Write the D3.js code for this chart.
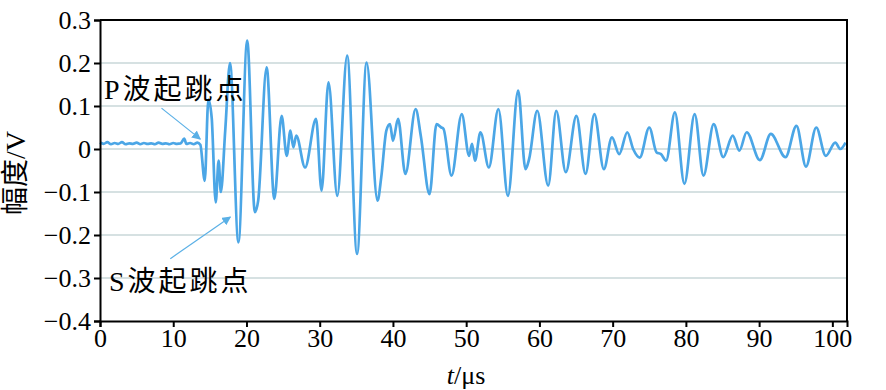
<!DOCTYPE html>
<html>
<head>
<meta charset="utf-8">
<script src="https://cdn.jsdelivr.net/npm/d3@7"></script>
<style>
  body { margin: 0; background: #fff; }
  svg { display: block; }
  .tick text { font-family: "Liberation Serif", "Times New Roman", serif; font-size: 26px; fill: #000; }
</style>
</head>
<body>
<script>
// time (us) and amplitude (V)
var timeValues = [0, 0.5, 1, 1.5, 2, 2.5, 3, 3.5, 4, 4.5, 5, 5.5, 6, 6.5, 7, 7.5, 8, 8.5, 9, 9.5,
  10, 10.5, 11, 11.5, 11.8, 12.3, 12.8, 13.3, 13.7,
  14.3, 14.8, 15.25, 15.8, 16.2, 16.5, 17.1, 17.75, 18.9, 20.1, 21.15, 21.6, 22.75, 23.8, 24.8,
  25.5, 26.0, 26.4, 26.8, 28.0, 29.5, 30.25, 31.2, 32.4, 33.75, 35.1, 36.4, 37.9, 38.4, 39.1,
  39.6, 40.0, 40.7, 41.7, 43.1, 43.8, 45.0, 45.95, 46.6, 46.9, 48.0, 49.4, 50.4, 50.8, 51.2,
  51.95, 53.1, 54.4, 55.7, 57.1, 58.1, 58.6, 59.7, 61.2, 62.3, 63.6, 65.05, 66.3, 67.5, 68.8,
  69.9, 70.9, 72.0, 72.8, 73.7, 75.0, 76.0, 76.6, 77.3, 78.5, 79.8, 81.2, 82.4, 83.8, 85.1,
  86.4, 87.3, 88.3, 90.1, 91.6, 93.6, 95.1, 96.4, 97.8, 99.1, 100.4, 101.1, 101.8];
var ampValues = [0.015, 0.012, 0.016, 0.011, 0.014, 0.012, 0.016, 0.011, 0.013, 0.012, 0.015, 0.011, 0.014, 0.012, 0.013, 0.011, 0.015, 0.012, 0.013, 0.011,
  0.014, 0.012, 0.013, 0.024, 0.012, 0.014, 0.011, 0.015, 0.010,
  -0.074, 0.115, 0.073, -0.124, -0.027, -0.100, 0.043, 0.200, -0.217, 0.252, -0.147, -0.120, 0.190, -0.116, 0.077,
  -0.016, 0.043, 0.004, 0.031, -0.043, 0.070, -0.097, 0.155, -0.109, 0.217, -0.244, 0.201, -0.120, -0.066, 0.043,
  0.058, 0.019, 0.070, -0.058, 0.093, 0.031, -0.105, 0.058, 0.050, 0.047, -0.062, 0.081, -0.016, 0.012, -0.027,
  0.039, -0.043, 0.093, -0.109, 0.136, -0.047, -0.023, 0.089, -0.085, 0.089, -0.054, 0.077, -0.058, 0.081, -0.047,
  0.027, -0.012, 0.039, 0.000, -0.020, 0.050, -0.008, -0.012, -0.027, 0.085, -0.081, 0.081, -0.062, 0.058, -0.019,
  0.031, -0.004, 0.039, -0.026, 0.035, -0.019, 0.054, -0.041, 0.050, -0.016, 0.015, 0.000, 0.015];

var xTicks = [0, 10, 20, 30, 40, 50, 60, 70, 80, 90, 100];
var yTicks = [-0.4, -0.3, -0.2, -0.1, 0, 0.1, 0.2, 0.3];
var gridValues = [-0.3, -0.2, -0.1, 0, 0.1, 0.2];

var w = 886, h = 390;
var mLeft = 100, mRight = 847, mTop = 20, mBottom = 321;

var svg = d3.select("body").append("svg")
  .attr("width", w)
  .attr("height", h);

var x = d3.scaleLinear().domain([0, 102]).range([mLeft, mRight]);
var y = d3.scaleLinear().domain([-0.4, 0.3]).range([mBottom, mTop]);

// grid lines
svg.append("g").selectAll("line")
  .data(gridValues)
  .enter().append("line")
  .attr("x1", mLeft).attr("x2", mRight)
  .attr("y1", function(d) { return y(d); })
  .attr("y2", function(d) { return y(d); })
  .attr("stroke", "#c9d7d9")
  .attr("stroke-width", 1.5);

// waveform
var points = timeValues.map(function(t, i) { return [t, ampValues[i]]; });
var line = d3.line()
  .x(function(d) { return x(d[0]); })
  .y(function(d) { return y(d[1]); })
  .curve(d3.curveMonotoneX);

svg.append("path")
  .datum(points)
  .attr("d", line)
  .attr("fill", "none")
  .attr("stroke", "#4ba6e6")
  .attr("stroke-width", 2.7)
  .attr("stroke-linejoin", "round");

// frame top and right
svg.append("line").attr("x1", mLeft).attr("x2", mRight).attr("y1", mTop).attr("y2", mTop)
  .attr("stroke", "#000").attr("stroke-width", 2);
svg.append("line").attr("x1", mRight).attr("x2", mRight).attr("y1", mTop - 1).attr("y2", mBottom)
  .attr("stroke", "#000").attr("stroke-width", 2);

// x axis
var xAxis = svg.append("g")
  .attr("transform", "translate(0," + mBottom + ")")
  .call(d3.axisBottom(x).tickValues(xTicks).tickSizeOuter(0).tickSize(6).tickPadding(2));

// y axis
var yAxis = svg.append("g")
  .attr("transform", "translate(" + mLeft + ",0)")
  .call(d3.axisLeft(y).tickValues(yTicks).tickSizeOuter(0).tickSize(6).tickPadding(3)
    .tickFormat(function(d) { return d === 0 ? "0" : d3.format(".1f")(d); }));

[xAxis, yAxis].forEach(function(g) {
  g.select(".domain").attr("stroke", "#000").attr("stroke-width", 2);
  g.selectAll(".tick line").attr("stroke", "#000").attr("stroke-width", 2);
});

// axis titles
svg.append("text")
  .attr("transform", "translate(25,173) rotate(-90)")
  .attr("text-anchor", "middle")
  .style("font-family", "'Liberation Serif', 'Noto Sans CJK SC', serif")
  .style("font-size", "28px")
  .text("幅度/V");

var xt = svg.append("text")
  .attr("x", 466)
  .attr("y", 384)
  .attr("text-anchor", "middle")
  .style("font-family", "'Liberation Serif', serif")
  .style("font-size", "26px");
xt.append("tspan").style("font-style", "italic").text("t");
xt.append("tspan").text("/μs");

// annotations
var annoColor = "#5ab0e6";
svg.append("defs").append("marker")
  .attr("id", "arrow")
  .attr("viewBox", "0 0 10 10")
  .attr("refX", 9).attr("refY", 5)
  .attr("markerWidth", 9).attr("markerHeight", 9)
  .attr("markerUnits", "userSpaceOnUse")
  .attr("orient", "auto")
  .append("path")
  .attr("d", "M0,0 L10,5 L0,10 z")
  .attr("fill", annoColor);

svg.append("line")
  .attr("x1", x(8.4)).attr("y1", y(0.095))
  .attr("x2", x(13.7)).attr("y2", y(0.023))
  .attr("stroke", annoColor).attr("stroke-width", 1.2)
  .attr("marker-end", "url(#arrow)");

svg.append("line")
  .attr("x1", x(9.6)).attr("y1", y(-0.255))
  .attr("x2", x(17.8)).attr("y2", y(-0.158))
  .attr("stroke", annoColor).attr("stroke-width", 1.2)
  .attr("marker-end", "url(#arrow)");

svg.append("text")
  .attr("x", 104).attr("y", 99)
  .style("font-family", "'Liberation Serif', 'Noto Sans CJK SC', serif")
  .style("font-size", "28px")
  .style("letter-spacing", "3px")
  .text("P波起跳点");

svg.append("text")
  .attr("x", 109).attr("y", 291)
  .style("font-family", "'Liberation Serif', 'Noto Sans CJK SC', serif")
  .style("font-size", "28px")
  .style("letter-spacing", "3px")
  .text("S波起跳点");
</script>
</body>
</html>
